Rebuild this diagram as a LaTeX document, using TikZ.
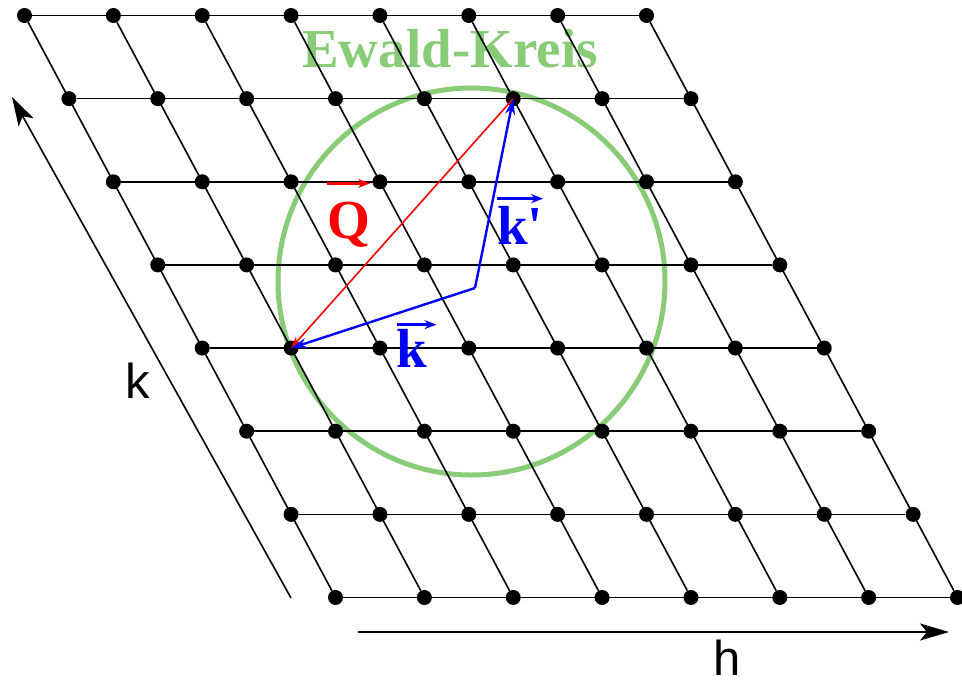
\documentclass[tikz,border=0pt]{standalone}
\usepackage{fontspec}
\usepackage{amsmath}
\setmainfont{Liberation Serif}
\setsansfont{Liberation Sans}
\usetikzlibrary{arrows.meta}
\definecolor{ewaldgreen}{RGB}{136,204,119}

\begin{document}
\begin{tikzpicture}[x=1pt,y=-1pt]
  \tikzstyle{gitter}=[circle,fill=black,inner sep=0pt,minimum size=15pt]
  \tikzstyle{achse}=[-{Stealth[length=29pt,width=17pt,inset=7pt]},line width=1.6pt]
  \tikzstyle{vektor}=[line width=2.4pt,blue,-{Stealth[length=16pt,width=10pt]}]
  \tikzstyle{marke}=[anchor=base,inner sep=0pt,font=\fontsize{55}{60}\selectfont\bfseries]
  \tikzstyle{pfeil}=[line width=2.6pt,-{Stealth[length=12pt,width=9pt]}]
  \useasboundingbox (0,0) rectangle (962,681);

  % Ewald-Kreis und Beschriftung
  \coordinate (M0) at (471.5,281.5);
  \draw[ewaldgreen,line width=5pt] (M0) circle[radius=193.5];
  \node[marke,ewaldgreen] (titel) at (450,67) {Ewald-Kreis};

  % Gitterpunkte
  \foreach \j in {0,...,7}
    \foreach \i in {0,...,7}
      \node[gitter] (p\i\j) at ({24.5+88.86*\i+44.43*\j},{15.5+83.14*\j}) {};
  \foreach \j in {0,...,7}
    \draw[line width=1.6pt] (p0\j) -- (p7\j);
  \foreach \i in {0,...,7}
    \draw[line width=1.6pt] (p\i0) -- (p\i7);

  % Streuvektoren
  \coordinate (M) at (475,288);
  \draw[red,line width=1.6pt,-{Stealth[length=12pt,width=8pt]}] (p51.center) -- (p14.center);
  \draw[vektor] (M) -- (p14.center);
  \draw[vektor] (M) -- (p51.center);
  \node[marke,red] (Q) at (348.5,238) {Q};
  \node[marke,blue] (ks) at (520,244) {k\textquotesingle};
  \node[marke,blue] (k) at (412,367) {k};
  \draw[pfeil,red] ([yshift=18pt]Q.north west) -- ([yshift=18pt]Q.north east);
  \draw[pfeil,blue] ([yshift=7pt]ks.north west) -- ([yshift=7pt]ks.north east);
  \draw[pfeil,blue] ([yshift=4pt]k.north west) -- ([yshift=4pt,xshift=9pt]k.north east);

  % Achsen
  \coordinate (k0) at (291,598);
  \coordinate (k1) at (12,97);
  \coordinate (h0) at (358,632);
  \coordinate (h1) at (949,632);
  \draw[achse] (k0) -- (k1);
  \draw[achse] (h0) -- (h1);
  \node[anchor=base,inner sep=0pt,font=\sffamily\fontsize{49}{56}\selectfont] (klab) at (137.5,398) {k};
  \node[anchor=base,inner sep=0pt,font=\sffamily\fontsize{49}{56}\selectfont] (hlab) at (727,675) {h};
\end{tikzpicture}
\end{document}
